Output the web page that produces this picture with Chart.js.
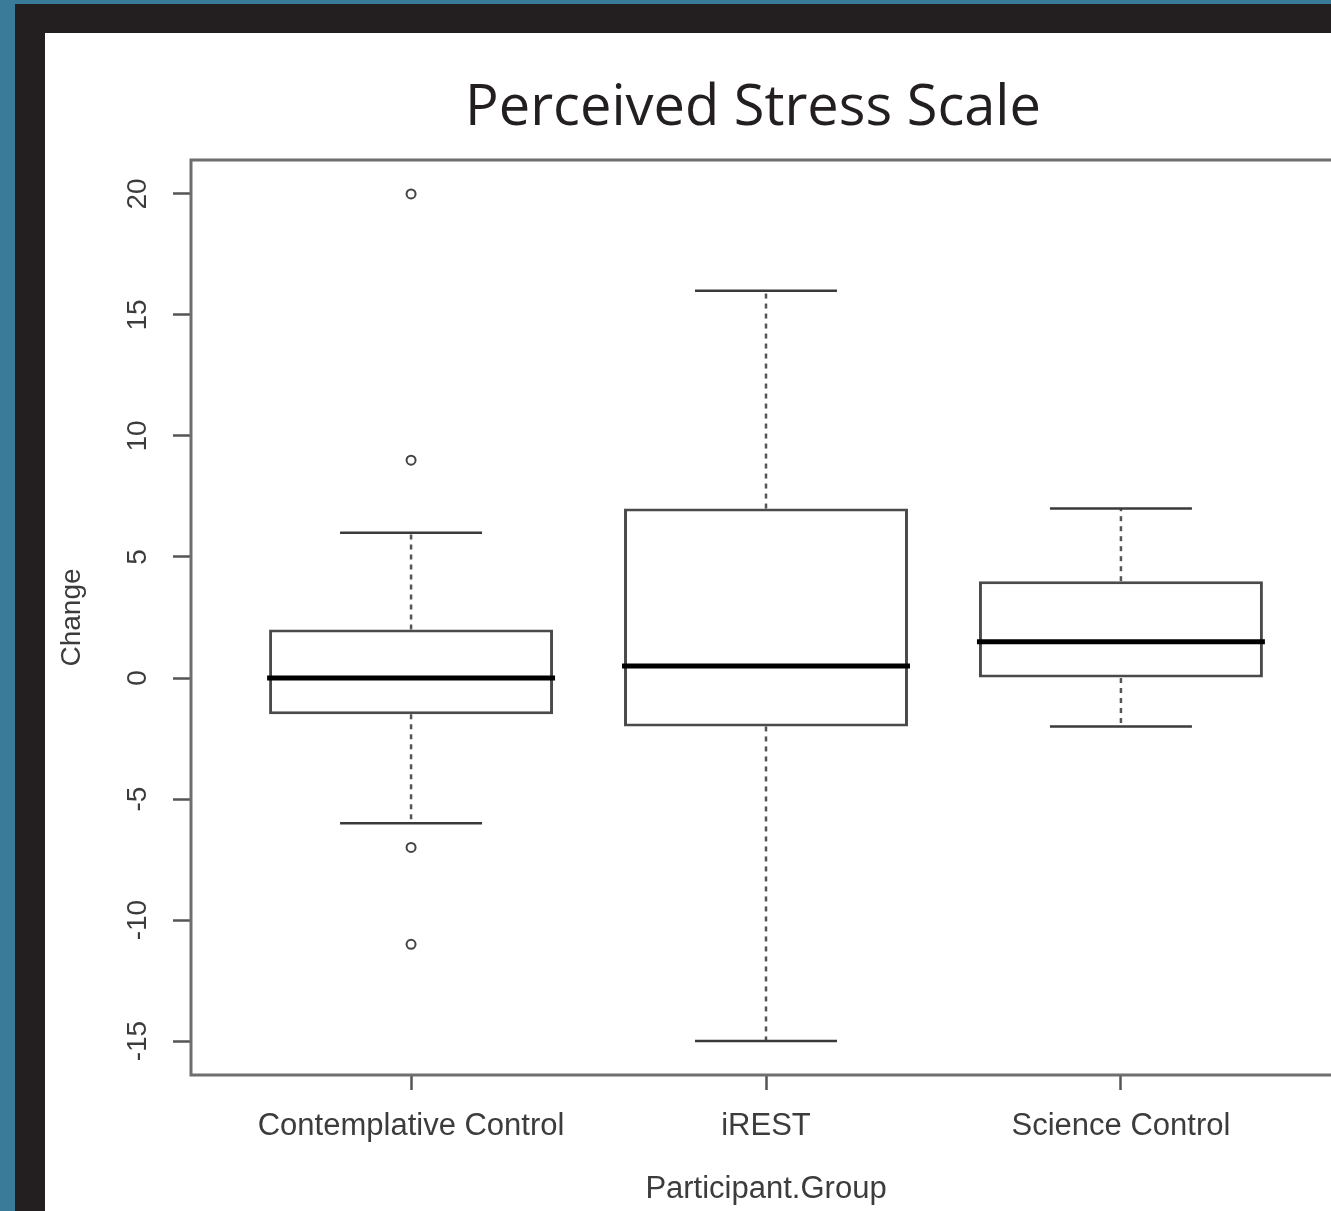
<!DOCTYPE html>
<html lang="en">
<head>
    <meta charset="UTF-8">
    <title>Perceived Stress Scale</title>
    <style>
        html, body {
            margin: 0;
            padding: 0;
            width: 1331px;
            height: 1211px;
            overflow: hidden;
            background-color: #3b7b9a;
        }

        .frame {
            position: absolute;
            left: 15px;
            top: 4px;
            right: 0;
            bottom: 0;
            background: #231f20;
        }

        .sheet {
            position: absolute;
            left: 45px;
            top: 33px;
            width: 1286px;
            height: 1178px;
            background: #fff;
            overflow: hidden;
        }

        .title {
            position: absolute;
            left: 0;
            top: 42px;
            width: 1416px;
            text-align: center;
            font-family: "Open Sans", sans-serif;
            font-size: 56px;
            line-height: 56px;
            color: #231f20;
            margin: 0;
            font-weight: normal;
            z-index: 2;
        }

        canvas {
            position: absolute;
            left: 0;
            top: 0;
        }
    </style>
</head>
<body>
    <div class="frame"></div>
    <div class="sheet">
        <canvas id="stressChart" width="1416" height="1178"></canvas>
        <h1 class="title">Perceived Stress Scale</h1>
    </div>

    <script src="https://cdn.jsdelivr.net/npm/chart.js"></script>
    <script>
        // Box plot summary per group
        const categories = ['Contemplative Control', 'iREST', 'Science Control'];
        const groupPos = [1, 2, 3];
        const whiskerLow = [-6, -15, -2];
        const q1 = [-1.5, -2, 0];
        const median = [0, 0.5, 1.5];
        const q3 = [2, 7, 4];
        const whiskerHigh = [6, 16, 7];

        // Outliers (only the first group has them)
        const outlierX = [1, 1, 1, 1];
        const outlierY = [20, 9, -7, -11];

        const yTicks = [-15, -10, -5, 0, 5, 10, 15, 20];

        const labelFont = { family: '"Liberation Sans", Arial, sans-serif', size: 31 };
        const textColor = '#3c3c3c';

        function line(ctx, x1, y1, x2, y2) {
            ctx.beginPath();
            ctx.moveTo(x1, y1);
            ctx.lineTo(x2, y2);
            ctx.stroke();
        }

        // Whiskers, staples and medians drawn from the scales
        const boxPlot = {
            id: 'boxPlot',
            afterDatasetsDraw(chart) {
                const { ctx, scales: { x, y } } = chart;
                const bars = chart.getDatasetMeta(0).data;
                ctx.save();
                groupPos.forEach((g, i) => {
                    const cx = x.getPixelForValue(g);
                    const half = bars[i].width / 2;

                    ctx.setLineDash([5, 5]);
                    ctx.lineWidth = 2.5;
                    ctx.strokeStyle = '#555';
                    line(ctx, cx, y.getPixelForValue(q3[i]), cx, y.getPixelForValue(whiskerHigh[i]));
                    line(ctx, cx, y.getPixelForValue(q1[i]), cx, y.getPixelForValue(whiskerLow[i]));

                    ctx.setLineDash([]);
                    ctx.strokeStyle = '#3a3a3a';
                    line(ctx, cx - half / 2, y.getPixelForValue(whiskerHigh[i]), cx + half / 2, y.getPixelForValue(whiskerHigh[i]));
                    line(ctx, cx - half / 2, y.getPixelForValue(whiskerLow[i]), cx + half / 2, y.getPixelForValue(whiskerLow[i]));

                    ctx.lineWidth = 5;
                    ctx.strokeStyle = '#000';
                    line(ctx, cx - half - 2, y.getPixelForValue(median[i]), cx + half + 2, y.getPixelForValue(median[i]));
                });
                ctx.restore();
            },
            afterDraw(chart) {
                const { ctx, chartArea: a } = chart;
                ctx.save();
                ctx.lineWidth = 3;
                ctx.strokeStyle = '#6e6e6e';
                ctx.strokeRect(a.left, a.top, a.right - a.left, a.bottom - a.top);
                ctx.restore();
            }
        };

        const ctx = document.getElementById('stressChart').getContext('2d');

        new Chart(ctx, {
            type: 'bar',
            data: {
                datasets: [{
                    label: 'Box',
                    data: groupPos.map((g, i) => ({ x: g, y: [q1[i], q3[i]] })),
                    backgroundColor: '#fff',
                    borderColor: '#4a4a4a',
                    borderWidth: 3,
                    borderSkipped: false,
                    categoryPercentage: 1,
                    barPercentage: 0.8
                }, {
                    type: 'scatter',
                    label: 'Outliers',
                    data: outlierX.map((v, i) => ({ x: v, y: outlierY[i] })),
                    pointRadius: 4.5,
                    pointBorderWidth: 2,
                    borderColor: '#444',
                    backgroundColor: 'rgba(0,0,0,0)'
                }]
            },
            options: {
                responsive: false,
                animation: false,
                events: [],
                layout: {
                    padding: { left: 0, right: 120, top: 127, bottom: 0 }
                },
                plugins: {
                    legend: { display: false },
                    tooltip: { enabled: false },
                    title: { display: false }
                },
                scales: {
                    x: {
                        type: 'linear',
                        min: 0.38,
                        max: 3.62,
                        offset: false,
                        afterBuildTicks: s => { s.ticks = groupPos.map(v => ({ value: v })); },
                        afterFit: s => { s.height = 136; },
                        ticks: {
                            callback: (v, i) => categories[i],
                            font: labelFont,
                            color: textColor,
                            padding: 18,
                            minRotation: 0,
                            maxRotation: 0,
                            autoSkip: false
                        },
                        grid: {
                            offset: false,
                            drawOnChartArea: false,
                            drawTicks: true,
                            tickLength: 15,
                            tickWidth: 2.5,
                            tickColor: '#555'
                        },
                        border: { display: false },
                        title: {
                            display: true,
                            text: 'Participant.Group',
                            font: labelFont,
                            color: textColor,
                            padding: { top: 0, bottom: 3 }
                        }
                    },
                    y: {
                        min: -16.4,
                        max: 21.4,
                        afterBuildTicks: s => { s.ticks = yTicks.map(v => ({ value: v })); },
                        afterFit: s => { s.width = 146; },
                        ticks: {
                            font: { family: '"Liberation Sans", Arial, sans-serif', size: 28 },
                            color: textColor,
                            minRotation: 90,
                            maxRotation: 90,
                            crossAlign: 'center',
                            padding: 14
                        },
                        grid: {
                            drawOnChartArea: false,
                            drawTicks: true,
                            tickLength: 18,
                            tickWidth: 2.5,
                            tickColor: '#555'
                        },
                        border: { display: false },
                        title: {
                            display: true,
                            text: 'Change',
                            font: { family: '"Liberation Sans", Arial, sans-serif', size: 28 },
                            color: textColor,
                            padding: { top: 10, bottom: 0 }
                        }
                    }
                }
            },
            plugins: [boxPlot]
        });
    </script>
</body>
</html>
